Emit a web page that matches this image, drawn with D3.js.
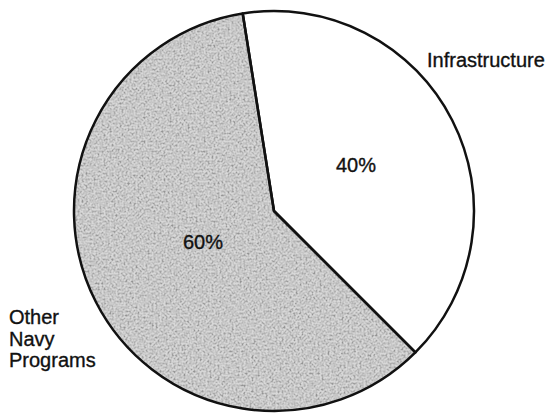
<!DOCTYPE html>
<html>
<head>
<meta charset="utf-8">
<script src="https://cdn.jsdelivr.net/npm/d3@7"></script>
<style>
  html, body { margin: 0; padding: 0; background: #fff; }
  svg { display: block; }
  text { font-family: "Liberation Sans", Arial, Helvetica, sans-serif; fill: #111; stroke: #111; stroke-width: 0.35px; }
</style>
</head>
<body>
<svg id="chart" width="555" height="413"></svg>
<script>
// Share of funding, in percent
const categories = ["Infrastructure", "Other Navy Programs"];
const shares = [40, 60];
const fills = ["#ffffff", "#b9b9b9"];

const svg = d3.select("#chart");
const cx = 274, cy = 211, r = 200;
const start = -9 * Math.PI / 180;

// Soft grainy texture for the shaded slice
const defs = svg.append("defs");
const f = defs.append("filter").attr("id", "grain")
  .attr("x", 0).attr("y", 0).attr("width", 1).attr("height", 1);
f.append("feTurbulence").attr("type", "fractalNoise")
  .attr("baseFrequency", 0.5).attr("numOctaves", 3).attr("seed", 7).attr("result", "noise");
f.append("feColorMatrix").attr("in", "noise").attr("type", "matrix")
  .attr("values", "1.2 1.2 1.2 0 -1.1  1.2 1.2 1.2 0 -1.1  1.2 1.2 1.2 0 -1.1  0 0 0 0 0.4")
  .attr("result", "gray");
f.append("feGaussianBlur").attr("in", "gray").attr("stdDeviation", 0.45).attr("result", "soft");
f.append("feComposite").attr("in", "soft").attr("in2", "SourceAlpha")
  .attr("operator", "in").attr("result", "clipped");
const m = f.append("feMerge");
m.append("feMergeNode").attr("in", "SourceGraphic");
m.append("feMergeNode").attr("in", "clipped");

const data = categories.map((c, i) => ({ name: c, value: shares[i], fill: fills[i] }));
const pie = d3.pie().sort(null).value(d => d.value)
  .startAngle(start).endAngle(start + 2 * Math.PI);
const arcs = pie(data);
const arc = d3.arc().innerRadius(0).outerRadius(r);

const g = svg.append("g").attr("transform", `translate(${cx},${cy})`);

// slice fills
g.selectAll("path.fill").data(arcs).join("path")
  .attr("class", "fill")
  .attr("d", arc)
  .attr("fill", d => d.data.fill)
  .attr("filter", d => d.index === 1 ? "url(#grain)" : null);

// outlines
g.selectAll("path.edge").data(arcs).join("path")
  .attr("class", "edge")
  .attr("d", arc)
  .attr("fill", "none")
  .attr("stroke", "#111")
  .attr("stroke-width", 2.5)
  .attr("stroke-linejoin", "round");

// value labels inside slices
const valuePos = [[356, 172], [203, 249]];
svg.selectAll("text.val").data(arcs).join("text")
  .attr("class", "val")
  .attr("x", (d, i) => valuePos[i][0])
  .attr("y", (d, i) => valuePos[i][1])
  .attr("text-anchor", "middle")
  .attr("font-size", 20)
  .text(d => d.data.value + "%");

// category labels outside
svg.append("text")
  .attr("x", 427).attr("y", 67)
  .attr("font-size", 20)
  .text(categories[0]);

const other = svg.append("text").attr("x", 9).attr("y", 324).attr("font-size", 20);
["Other", "Navy", "Programs"].forEach((w, i) => {
  other.append("tspan").attr("x", 9).attr("dy", i === 0 ? 0 : 21.5).text(w);
});
</script>
</body>
</html>
